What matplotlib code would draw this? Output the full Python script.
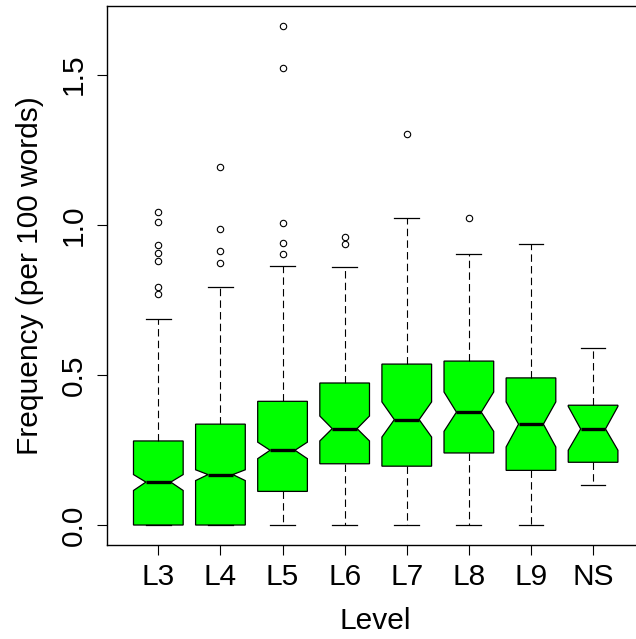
import matplotlib
matplotlib.use("Agg")
import matplotlib.pyplot as plt

labels = ["L3", "L4", "L5", "L6", "L7", "L8", "L9", "NS"]
q1 = [0.0, 0.0, 0.112, 0.204, 0.196, 0.240, 0.182, 0.209]
med = [0.143, 0.168, 0.249, 0.321, 0.351, 0.376, 0.336, 0.320]
q3 = [0.280, 0.336, 0.412, 0.473, 0.536, 0.546, 0.490, 0.399]
whislo = [0.0, 0.0, 0.0, 0.0, 0.0, 0.0, 0.0, 0.132]
whishi = [0.685, 0.793, 0.862, 0.858, 1.022, 0.904, 0.935, 0.591]
cilo = [0.115, 0.148, 0.221, 0.280, 0.293, 0.312, 0.260, 0.249]
cihi = [0.168, 0.184, 0.276, 0.363, 0.410, 0.443, 0.410, 0.395]
outliers = [
    [1.041, 1.009, 0.932, 0.905, 0.880, 0.793, 0.771],
    [1.192, 0.985, 0.913, 0.871],
    [1.662, 1.523, 1.007, 0.938, 0.901],
    [0.960, 0.935],
    [1.303],
    [1.022],
    [],
    [],
]
yticks = [0.0, 0.5, 1.0, 1.5]
ytick_labels = ["0.0", "0.5", "1.0", "1.5"]

plt.rcParams['font.family'] = ['Liberation Sans', 'DejaVu Sans']
FS = 21.5

fig = plt.figure(figsize=(6.36, 6.39), dpi=100)
W, H = 636, 639
left_px, right_px, top_px, bot_px = 107.4, 644.0, 6.0, 545.0
ax = fig.add_axes([left_px / W, (H - bot_px) / H, (right_px - left_px) / W, (bot_px - top_px) / H])

stats = []
for i in range(len(labels)):
    stats.append(dict(label=labels[i], q1=q1[i], med=med[i], q3=q3[i],
                      whislo=whislo[i], whishi=whishi[i],
                      cilo=cilo[i], cihi=cihi[i], fliers=outliers[i]))

positions = list(range(1, len(labels) + 1))
ax.bxp(stats, positions=positions, widths=0.8, capwidths=0.4,
       shownotches=True, patch_artist=True,
       boxprops=dict(facecolor='#00ff00', edgecolor='black', linewidth=0.9),
       whiskerprops=dict(color='black', linewidth=0.8, linestyle=(0, (6.7, 3.8))),
       capprops=dict(color='black', linewidth=0.9),
       medianprops=dict(color='black', linewidth=2.4, solid_capstyle='butt'),
       flierprops=dict(marker='o', markersize=4.6, markerfacecolor='none',
                       markeredgecolor='black', markeredgewidth=0.8, linestyle='none'))

ax.set_xlim(0.18, 8.82)
ax.set_ylim(-0.0665, 1.7285)
ax.set_xticks(positions)
ax.set_xticklabels(labels, fontsize=FS)
ax.set_yticks(yticks)
ax.set_yticklabels(ytick_labels, fontsize=FS, rotation=90, va='center')
ax.tick_params(axis='both', direction='out', length=7.2, width=0.8, color='black')
ax.tick_params(axis='x', pad=5.5)
ax.tick_params(axis='y', pad=7)
for s in ax.spines.values():
    s.set_linewidth(1.0)
    s.set_color('black')

ax.set_xlabel("Level", fontsize=FS)
ax.xaxis.set_label_coords(0.5, -0.1145)
ax.set_ylabel("Frequency (per 100 words)", fontsize=FS)
ax.yaxis.set_label_coords(-0.118, 0.5)

fig.savefig("out.png", dpi=100)
